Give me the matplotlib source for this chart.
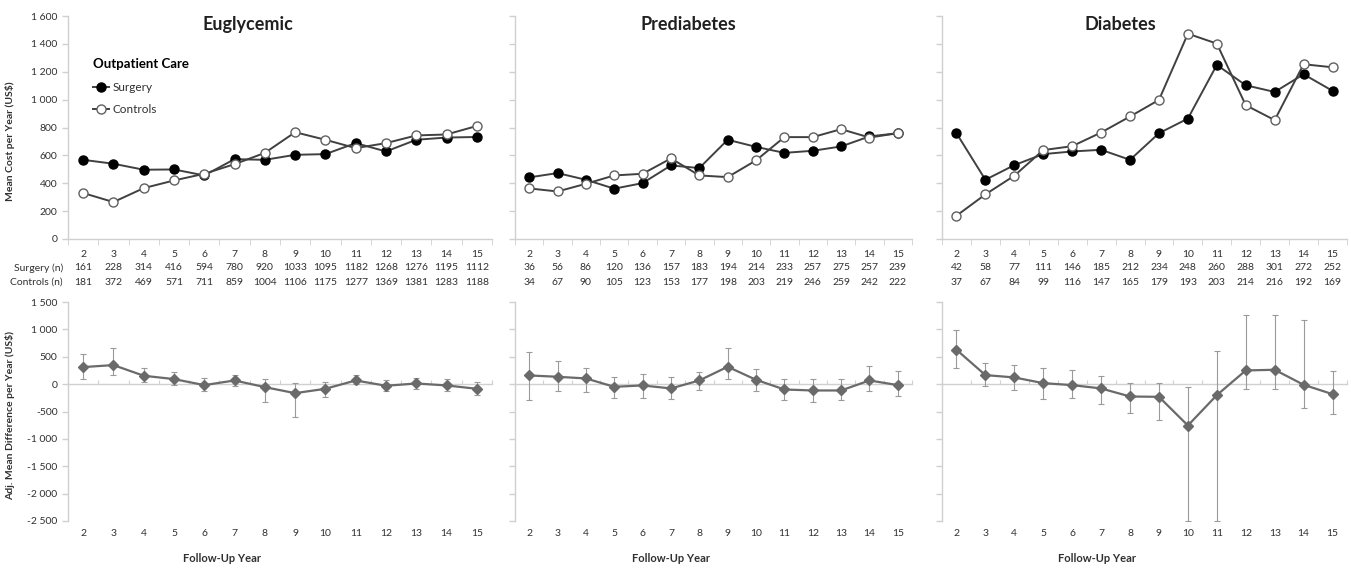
import numpy as np
import matplotlib
matplotlib.use('Agg')
import matplotlib.pyplot as plt
from matplotlib.ticker import FuncFormatter, NullFormatter

plt.rcParams['font.family'] = ['Lato', 'DejaVu Sans']

years = list(range(2, 16))
groups = ['Euglycemic', 'Prediabetes', 'Diabetes']

# mean outpatient cost per year (US$)
eu_surgery = [568, 540, 497, 499, 456, 573, 568, 604, 609, 688, 628, 712, 728, 732]
eu_controls = [330, 265, 365, 420, 468, 537, 618, 766, 712, 652, 688, 743, 750, 811]
pre_surgery = [442, 473, 425, 361, 401, 528, 509, 712, 661, 618, 633, 664, 736, 759]
pre_controls = [363, 341, 396, 456, 468, 578, 456, 444, 564, 731, 731, 788, 728, 759]
dia_surgery = [759, 425, 530, 609, 628, 640, 568, 759, 864, 1249, 1103, 1055, 1182, 1063]
dia_controls = [167, 320, 454, 638, 666, 764, 879, 998, 1473, 1402, 960, 853, 1254, 1232]

# sample sizes
eu_n_surgery = [161, 228, 314, 416, 594, 780, 920, 1033, 1095, 1182, 1268, 1276, 1195, 1112]
eu_n_controls = [181, 372, 469, 571, 711, 859, 1004, 1106, 1175, 1277, 1369, 1381, 1283, 1188]
pre_n_surgery = [36, 56, 86, 120, 136, 157, 183, 194, 214, 233, 257, 275, 257, 239]
pre_n_controls = [34, 67, 90, 105, 123, 153, 177, 198, 203, 219, 246, 259, 242, 222]
dia_n_surgery = [42, 58, 77, 111, 146, 185, 212, 234, 248, 260, 288, 301, 272, 252]
dia_n_controls = [37, 67, 84, 99, 116, 147, 165, 179, 193, 203, 214, 216, 192, 169]

# adjusted mean difference with CI
eu_diff = [311, 348, 153, 92, -18, 67, -55, -165, -85, 67, -30, 12, -24, -85]
eu_hi = [543, 653, 299, 214, 110, 171, 85, 18, 37, 159, 73, 116, 92, 37]
eu_lo = [98, 171, 37, -18, -122, -43, -329, -592, -244, 0, -122, -98, -122, -207]
pre_diff = [159, 134, 104, -49, -24, -79, 67, 317, 79, -98, -116, -116, 67, -18]
pre_hi = [592, 421, 287, 134, 177, 134, 220, 659, 281, 85, 85, 98, 329, 244]
pre_lo = [-281, -134, -146, -256, -262, -275, -104, 98, -134, -293, -329, -293, -134, -214]
dia_diff = [628, 165, 122, 18, -18, -79, -226, -232, -756, -201, 250, 262, -12, -183]
dia_hi = [982, 378, 342, 299, 262, 153, 24, 24, -61, 604, 1257, 1257, 1165, 238]
dia_lo = [293, -37, -110, -268, -256, -366, -525, -659, -2500, -2500, -85, -85, -445, -537]

cost = [(eu_surgery, eu_controls), (pre_surgery, pre_controls), (dia_surgery, dia_controls)]
counts = [(eu_n_surgery, eu_n_controls), (pre_n_surgery, pre_n_controls), (dia_n_surgery, dia_n_controls)]
diffs = [(eu_diff, eu_lo, eu_hi), (pre_diff, pre_lo, pre_hi), (dia_diff, dia_lo, dia_hi)]

W, H = 1351, 568
fig = plt.figure(figsize=(W / 100, H / 100), dpi=100)

# pixel layout: (left, right) per column
cols = [(68, 492), (515, 912), (942, 1347)]
top_y = (16, 239)
bot_y = (302, 521)
title_x = [0.425, 0.436, 0.44]
xlab_x = [0.363, 0.393, 0.383]

axis_col = '#d0d0d0'
txt_col = '#303030'
fmt = FuncFormatter(lambda v, p: f'{int(v):,}'.replace(',', ' '))


def style_axes(ax):
    for s in ['top', 'right']:
        ax.spines[s].set_visible(False)
    for s in ['left', 'bottom']:
        ax.spines[s].set_color(axis_col)
        ax.spines[s].set_linewidth(1.0)
    ax.tick_params(axis='y', colors=axis_col, labelcolor=txt_col, labelsize=7.5, length=4, width=1)
    ax.set_xlim(1.5, 15.5)


for i, g in enumerate(groups):
    l, r = cols[i]
    # top: mean cost
    ax = fig.add_axes([l / W, 1 - top_y[1] / H, (r - l) / W, (top_y[1] - top_y[0]) / H])
    style_axes(ax)
    s, c = cost[i]
    ax.plot(years, s, '-o', color='#404040', lw=1.4, ms=6.5, mfc='black', mec='black', label='Surgery', zorder=3)
    ax.plot(years, c, '-o', color='#404040', lw=1.4, ms=6.5, mfc='white', mec='#606060', mew=1.0, label='Controls', zorder=3)
    ax.set_ylim(0, 1600)
    ax.set_yticks(np.arange(0, 1601, 200))
    ax.yaxis.set_major_formatter(fmt)
    ax.set_xticks(years)
    ax.set_xticks(np.arange(1.5, 15.6, 1), minor=True)
    ax.tick_params(axis='x', which='major', length=0, labelsize=7.5, labelcolor=txt_col, pad=8)
    ax.tick_params(axis='x', which='minor', length=4, color=axis_col)
    ns, nc = counts[i]
    for x, a, b in zip(years, ns, nc):
        ax.text(x, -0.13, str(a), transform=ax.get_xaxis_transform(), ha='center', va='center', fontsize=7.5, color=txt_col)
        ax.text(x, -0.193, str(b), transform=ax.get_xaxis_transform(), ha='center', va='center', fontsize=7.5, color=txt_col)
    ax.text(title_x[i], 0.96, g, transform=ax.transAxes, ha='center', va='center', fontsize=13, fontweight='bold', color='#202020')
    if i == 0:
        ax.text(-0.012, -0.13, 'Surgery (n)', transform=ax.transAxes, ha='right', va='center', fontsize=7.5, color=txt_col)
        ax.text(-0.012, -0.193, 'Controls (n)', transform=ax.transAxes, ha='right', va='center', fontsize=7.5, color=txt_col)
        ax.set_ylabel('Mean Cost per Year (US$)', fontsize=7.5, fontweight='bold', color=txt_col)
        ax.yaxis.set_label_coords(-0.125, 0.44)
        leg = ax.legend(loc='upper left', bbox_to_anchor=(0.033, 0.86), frameon=False, fontsize=8.5,
                        title='Outpatient Care', title_fontproperties={'weight': 'bold', 'size': 9.5},
                        alignment='left', handlelength=1.4, handletextpad=0.3, labelspacing=1.0)
        for t in leg.get_texts():
            t.set_color(txt_col)
    else:
        ax.tick_params(axis='y', labelleft=False)

    # bottom: adjusted difference
    bx = fig.add_axes([l / W, 1 - bot_y[1] / H, (r - l) / W, (bot_y[1] - bot_y[0]) / H])
    style_axes(bx)
    bx.spines['bottom'].set_visible(False)
    d, lo, hi = diffs[i]
    d = np.array(d)
    bx.errorbar(years, d, yerr=[d - np.array(lo), np.array(hi) - d], fmt='-D', color='#6a6a6a', lw=1.6, ms=5,
                ecolor='#9a9a9a', elinewidth=0.8, capsize=2, capthick=0.8, zorder=3)
    bx.set_ylim(-2500, 1500)
    bx.set_yticks(np.arange(-2500, 1501, 500))
    bx.yaxis.set_major_formatter(fmt)
    bx.set_xticks(years)
    bx.tick_params(axis='x', length=0, labelsize=7.5, labelcolor=txt_col, pad=6)
    # horizontal axis crossing at zero
    zero = bx.secondary_xaxis(2500 / 4000)
    for sp in zero.spines.values():
        sp.set_color(axis_col)
        sp.set_linewidth(1.0)
    zero.set_xticks(np.arange(1.5, 15.6, 1))
    zero.xaxis.set_major_formatter(NullFormatter())
    zero.tick_params(axis='x', length=3, color=axis_col, labeltop=False, labelbottom=False)
    bx.text(xlab_x[i], -0.17, 'Follow-Up Year', transform=bx.transAxes, ha='center', va='center',
            fontsize=8, fontweight='bold', color=txt_col)
    if i == 0:
        bx.set_ylabel('Adj. Mean Difference per Year (US$)', fontsize=7.5, fontweight='bold', color=txt_col)
        bx.yaxis.set_label_coords(-0.125, 0.48)
    else:
        bx.tick_params(axis='y', labelleft=False)

fig.savefig('out.png', dpi=100)
